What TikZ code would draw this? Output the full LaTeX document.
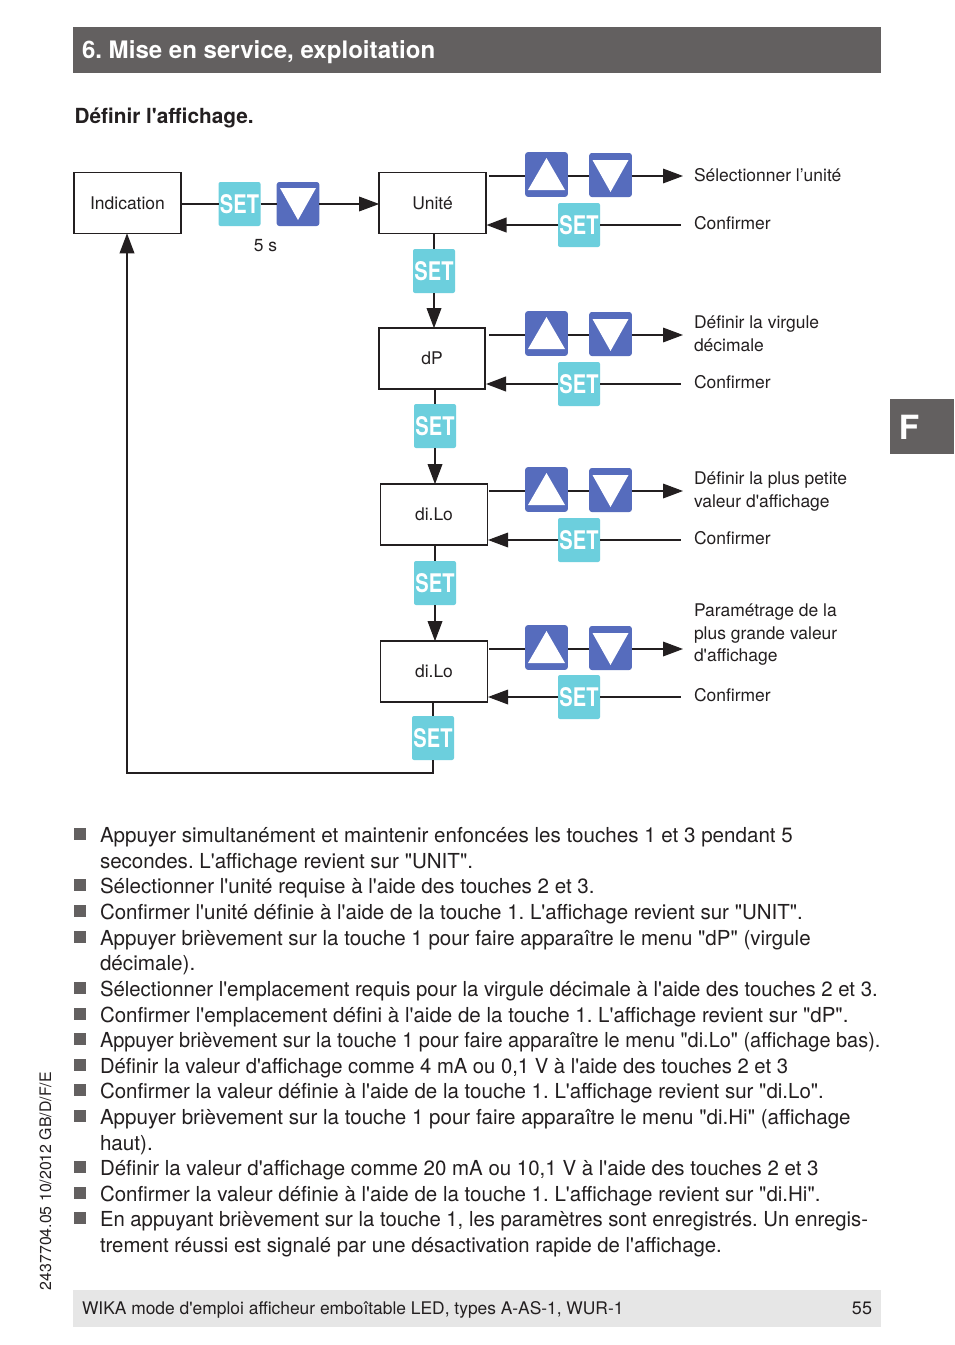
\documentclass[tikz,border=0pt]{standalone}
\usepackage{fontspec}
\usepackage{graphicx}
\newfontfamily\hv{TeX Gyre Heros}
\usetikzlibrary{arrows.meta}
\definecolor{hdr}{HTML}{636060}
\definecolor{foot}{HTML}{E6E6E6}
\definecolor{ink}{HTML}{231F20}
\definecolor{cy}{HTML}{6CCFDD}
\definecolor{bl}{HTML}{566CBD}
\newcommand{\bodyfs}{\fontsize{15.5pt}{19pt}\selectfont}
\newcommand{\smallfs}{\fontsize{13.1pt}{16pt}\selectfont}
\newcommand{\settxt}{\scalebox{0.86}[1.1]{SET}}
\tikzset{
  x=0.75pt,y=-0.75pt,
  every node/.style={text=ink,inner sep=0pt,outer sep=0pt},
  flowbox/.style={draw=ink,line width=1.2pt,fill=white,minimum width=80pt,minimum height=45.5pt,font=\smallfs},
  setbtn/.style={fill=cy,rounded corners=1.5pt,minimum width=31.5pt,minimum height=33pt,text=white,font=\fontsize{17.5pt}{18pt}\selectfont\bfseries},
  upbtn/.style={fill=bl,rounded corners=2pt,minimum width=32pt,minimum height=33.5pt},
  downbtn/.style={fill=bl,rounded corners=2pt,minimum width=32pt,minimum height=33pt},
  flow/.style={draw=ink,line width=0.9pt},
  tip/.style={-{Triangle[length=15pt,width=11pt]}},
  lbl/.style={anchor=base west,font=\smallfs,align=left},
  bodyline/.style={anchor=base west,font=\bodyfs},
  bul/.style={fill=hdr,minimum width=9.6pt,minimum height=9.6pt,anchor=center},
}
\newcommand{\uptri}[2]{\fill[white] (#1-18.5,#2+14) -- (#1,#2-18) -- (#1+18.5,#2+14) -- cycle;}
\newcommand{\dntri}[2]{\fill[white] (#1-18,#2-16) -- (#1+18,#2-16) -- (#1,#2+16) -- cycle;}
\newcommand{\flowrow}[5]{%
  % #1 name, #2 y upper line, #3 y lower line, #4 x box right, #5 lower line width
  \coordinate (#1ustart) at (489,#2);
  \coordinate (#1uend) at (683,#2);
  \coordinate (#1lend) at (681,#3);
  \coordinate (#1lto) at (#4,#3);
  \node[upbtn] (#1up) at (546.5,#2-1.5) {};
  \node[downbtn] (#1dn) at (610.5,#2-1) {};
  \node[setbtn] (#1set) at (579,#3) {\settxt};
  \draw[flow] (#1ustart) -- (#1up.west |- #1ustart);
  \draw[flow] (#1up.east |- #1ustart) -- (#1dn.west |- #1ustart);
  \draw[flow,tip] (#1dn.east |- #1ustart) -- (#1uend);
  \draw[flow,tip,line width=#5] (#1set) -- (#1lto);
  \draw[flow,line width=#5] (#1set) -- (#1lend);
  \uptri{546.5}{#2}
  \dntri{610.5}{#2}
}
\begin{document}
\begin{tikzpicture}
\hv\frenchspacing
\useasboundingbox (0,0) rectangle (954,1345);
\fill[white] (0,0) rectangle (954,1345);
% header, tab, footer
\node[fill=hdr,minimum width=606pt,minimum height=34.5pt] (hdrbar) at (477,50) {};
\node[anchor=base west,text=white,font=\fontsize{18.05pt}{20pt}\selectfont\bfseries] (hdrtxt) at (82,58.5) {6. Mise en service, exploitation};
\node[fill=hdr,minimum width=48pt,minimum height=41.25pt] (tab) at (922,426.5) {};
\node[text=white,font=\fontsize{25pt}{26pt}\selectfont\bfseries] (tabf) at (909,427) {F};
\node[fill=foot,minimum width=606pt,minimum height=27.75pt] (footbar) at (477,1308.5) {};
\node[anchor=base west,font=\fontsize{13.05pt}{16pt}\selectfont] (foottxt) at (82,1314) {WIKA mode d'emploi afficheur emboîtable LED, types A-AS-1, WUR-1};
\node[anchor=base east,font=\fontsize{13.5pt}{16pt}\selectfont] (footpg) at (872,1314) {55};
\node[anchor=base west,rotate=90,font=\fontsize{11.9pt}{14pt}\selectfont] (sidetxt) at (51,1290) {2437704.05 10/2012 GB/D/F/E};
\node[anchor=base west,font=\fontsize{15.6pt}{18pt}\selectfont\bfseries] (subttl) at (74.5,123) {Définir l'affichage.};
% boxes
\node[flowbox,minimum width=80.5pt] (ind) at (127.5,203) {Indication};
\node[flowbox] (uni) at (432.5,203) {Unité};
\node[flowbox,line width=1.6pt] (dp) at (432,358.5) {dP};
\node[flowbox] (lo) at (434,514.5) {di.Lo};
\node[flowbox] (hi) at (434,671.5) {di.Lo};
% first line
\node[setbtn] (s0) at (239.5,204) {\settxt};
\node[downbtn] (d0) at (298,204) {};
\draw[flow] (ind.east |- s0) -- (s0);
\draw[flow] (s0) -- (d0);
\draw[flow,tip] (d0) -- (uni.west |- d0);
\dntri{298}{204}
\node[anchor=base,font=\smallfs] (five) at (265.5,251) {5 s};
% rows
\flowrow{a}{176}{225}{486.5}{1.4pt}
\flowrow{b}{335}{384}{486}{1.4pt}
\flowrow{c}{491}{540}{488}{0.9pt}
\flowrow{e}{649}{697}{488}{0.9pt}
% vertical
\node[setbtn] (v1) at (434,271) {\settxt};
\node[setbtn] (v2) at (435,426) {\settxt};
\node[setbtn] (v3) at (435,583) {\settxt};
\node[setbtn] (v4) at (433,738) {\settxt};
\draw[flow] (uni.south -| v1) -- (v1);
\draw[flow,tip] (v1) -- (v1 |- dp.north);
\draw[flow] (dp.south -| v2) -- (v2);
\draw[flow,tip] (v2) -- (v2 |- lo.north);
\draw[flow] (lo.south -| v3) -- (v3);
\draw[flow,tip] (v3) -- (v3 |- hi.north);
\draw[flow] (hi.south -| v4) -- (v4);
\coordinate (corner) at (127,773);
\draw[flow,line width=1.2pt,tip] (v4) |- (corner) -- (ind.south -| corner);
% labels
\node[lbl] (l1) at (694,181) {Sélectionner l’unité};
\node[lbl] (l2) at (694,229) {Confirmer};
\node[lbl] (l3) at (694,328) {Définir la virgule};
\node[lbl] (l3b) at (694,351) {décimale};
\node[lbl] (l4) at (694,388) {Confirmer};
\node[lbl] (l5) at (694,484) {Définir la plus petite};
\node[lbl] (l5b) at (694,507) {valeur d'affichage};
\node[lbl] (l6) at (694,544) {Confirmer};
\node[lbl] (l7) at (694,616) {Paramétrage de la};
\node[lbl] (l7b) at (694,639) {plus grande valeur};
\node[lbl] (l7c) at (694,661) {d'affichage};
\node[lbl] (l8) at (694,701) {Confirmer};
% body
\newcommand{\bl}[4]{\node[bodyline] (t#1) at (100,#2) {\scalebox{#3}[1]{#4}};}
\newcommand{\bu}[2]{\node[bul] (b#1) at (80,#2) {};}
\bu{1}{834}\bl{1}{842}{.996}{Appuyer simultanément et maintenir enfoncées les touches 1 et 3 pendant 5}
\bl{1b}{868}{.995}{secondes. L'affichage revient sur "UNIT".}
\bu{2}{885}\bl{2}{893}{.994}{Sélectionner l'unité requise à l'aide des touches 2 et 3.}
\bu{3}{911}\bl{3}{919}{.992}{Confirmer l'unité définie à l'aide de la touche 1. L'affichage revient sur "UNIT".}
\bu{4}{937}\bl{4}{945}{.993}{Appuyer brièvement sur la touche 1 pour faire apparaître le menu "dP" (virgule}
\bl{4b}{970.5}{1}{décimale).}
\bu{5}{988}\bl{5}{996}{.985}{Sélectionner l'emplacement requis pour la virgule décimale à l'aide des touches 2 et 3.}
\bu{6}{1014}\bl{6}{1022}{.993}{Confirmer l'emplacement défini à l'aide de la touche 1. L'affichage revient sur "dP".}
\bu{7}{1039}\bl{7}{1047}{.964}{Appuyer brièvement sur la touche 1 pour faire apparaître le menu "di.Lo" (affichage bas).}
\bu{8}{1065}\bl{8}{1073}{.979}{Définir la valeur d'affichage comme 4 mA ou 0,1 V à l'aide des touches 2 et 3}
\bu{9}{1090}\bl{9}{1098}{.992}{Confirmer la valeur définie à l'aide de la touche 1. L'affichage revient sur "di.Lo".}
\bu{10}{1116}\bl{10}{1124}{.995}{Appuyer brièvement sur la touche 1 pour faire apparaître le menu "di.Hi" (affichage}
\bl{10b}{1150}{1}{haut).}
\bu{11}{1167}\bl{11}{1175}{.990}{Définir la valeur d'affichage comme 20 mA ou 10,1 V à l'aide des touches 2 et 3}
\bu{12}{1193}\bl{12}{1201}{.992}{Confirmer la valeur définie à l'aide de la touche 1. L'affichage revient sur "di.Hi".}
\bu{13}{1218}\bl{13}{1226}{.982}{En appuyant brièvement sur la touche 1, les paramètres sont enregistrés. Un enregis-}
\bl{13b}{1252}{.984}{trement réussi est signalé par une désactivation rapide de l'affichage.}
\end{tikzpicture}
\end{document}
